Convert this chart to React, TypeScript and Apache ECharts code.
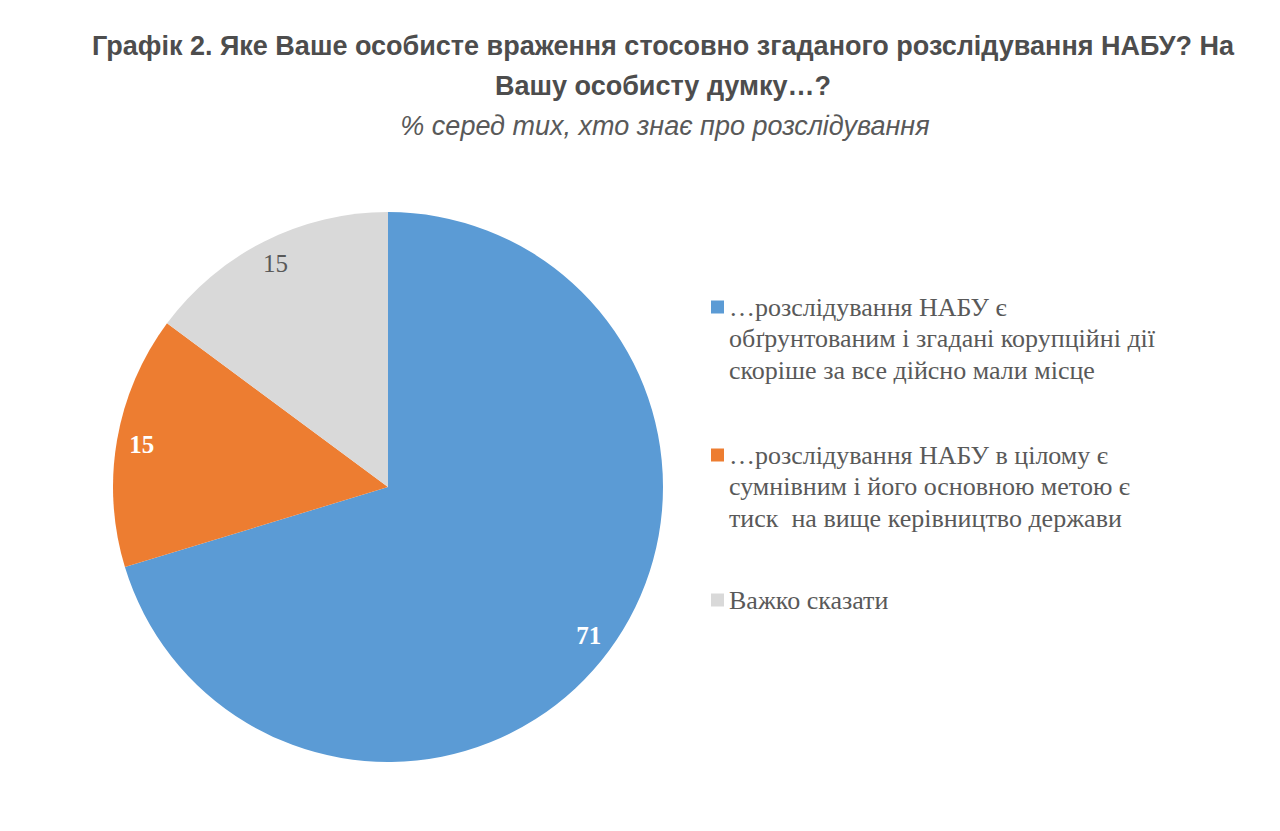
import React, { useEffect, useRef } from 'react';
import * as echarts from 'echarts';

const titleText =
  'Графік 2. Яке Ваше особисте враження стосовно згаданого розслідування НАБУ? На\nВашу особисту думку…?';
const subtitleText = '% серед тих, хто знає про розслідування';

const categories = [
  '…розслідування НАБУ є\nобґрунтованим і згадані корупційні дії\nскоріше за все дійсно мали місце',
  '…розслідування НАБУ в цілому є\nсумнівним і його основною метою є\nтиск  на вище керівництво держави',
  'Важко сказати',
];
const values = [71, 15, 15];
const colors = ['#5B9BD5', '#ED7D31', '#D9D9D9'];
const labelColors = ['#ffffff', '#ffffff', '#595959'];
const labelWeights = ['bold', 'bold', 'normal'];

const LINE_H = 31.5;
const legendIconY = [307, 455, 600];

const App: React.FC = () => {
  const chartRef = useRef<HTMLDivElement>(null);

  useEffect(() => {
    document.body.style.margin = '0';
    if (!chartRef.current) return;
    const chart = echarts.init(chartRef.current, undefined, { renderer: 'svg' });

    // легенда: окремий блок на кожен пункт; порожні рядки зверху,
    // щоб квадрат стояв навпроти першого рядка тексту
    const legends = categories.map((name, i) => {
      const lines = name.split('\n').length;
      const blank = '\n'.repeat(lines - 1);
      const total = 2 * lines - 1;
      return {
        data: [name],
        orient: 'vertical',
        left: 711,
        top: legendIconY[i] - (total * LINE_H) / 2,
        padding: 0,
        icon: 'rect',
        itemWidth: 13,
        itemHeight: 13,
        itemGap: 0,
        selectedMode: false,
        formatter: (n: string) => blank + n,
        textStyle: {
          fontFamily: 'Liberation Serif',
          fontSize: 26,
          color: '#595959',
          lineHeight: LINE_H,
        },
      };
    });

    const pieData = categories.map((name, i) => ({
      name,
      value: values[i],
      itemStyle: { color: colors[i] },
    }));

    const option = {
      animation: false,
      title: [
        {
          text: titleText,
          left: 663,
          top: 26,
          textAlign: 'center',
          padding: 0,
          textStyle: {
            fontFamily: 'Liberation Sans',
            fontWeight: 'bold',
            fontSize: 27,
            lineHeight: 40,
            color: '#4d4d4d',
          },
        },
        {
          text: subtitleText,
          left: 665,
          top: 111,
          textAlign: 'center',
          padding: 0,
          textStyle: {
            fontFamily: 'Liberation Sans',
            fontStyle: 'italic',
            fontWeight: 'normal',
            fontSize: 27,
            lineHeight: 30,
            color: '#595959',
          },
        },
      ],
      legend: legends,
      series: [
        {
          type: 'pie',
          center: [388, 487],
          radius: [0, 275],
          startAngle: 90,
          clockwise: true,
          silent: true,
          label: { show: false },
          labelLine: { show: false },
          itemStyle: { borderWidth: 0 },
          data: pieData,
        },
        {
          // прозоре кільце лише для підписів біля краю
          type: 'pie',
          center: [388, 487],
          radius: [219, 275],
          startAngle: 90,
          clockwise: true,
          silent: true,
          itemStyle: { color: 'transparent', borderWidth: 0 },
          labelLine: { show: false },
          data: categories.map((name, i) => ({
            name,
            value: values[i],
            itemStyle: { color: 'transparent' },
            label: {
              show: true,
              position: 'inside',
              formatter: '{c}',
              fontFamily: 'Liberation Serif',
              fontSize: 25,
              fontWeight: labelWeights[i],
              color: labelColors[i],
            },
          })),
        },
      ],
    };

    chart.setOption(option);

    const handleResize = () => chart.resize();
    window.addEventListener('resize', handleResize);
    return () => {
      window.removeEventListener('resize', handleResize);
      chart.dispose();
    };
  }, []);

  return <div ref={chartRef} style={{ width: '1280px', height: '831px', background: '#fff' }} />;
};

export default App;
